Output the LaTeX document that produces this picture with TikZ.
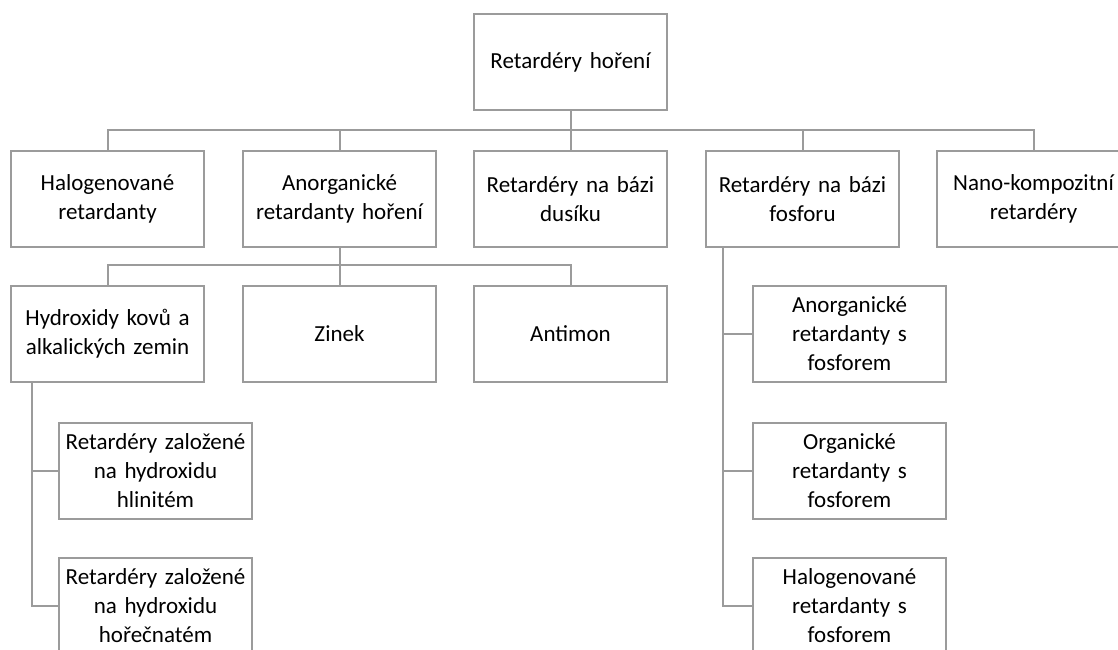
\documentclass[tikz,border=0pt]{standalone}
\usepackage{fontspec}
\setmainfont{Carlito}
\definecolor{linegray}{RGB}{155,155,155}
\begin{document}
\begin{tikzpicture}[x=1pt,y=-1pt,
  box/.style={draw=linegray, line width=2pt, fill=white, minimum width=193pt, minimum height=96pt,
    align=center, text width=188pt, inner sep=0pt, anchor=north west,
    font=\fontsize{23}{29}\selectfont},
  conn/.style={draw=linegray, line width=2pt}]
\useasboundingbox (0,0) rectangle (1118,649);
% level 0
\node[box] (root) at (473,13) {Retardéry hoření};
% level 1
\node[box] (hal) at (10,150) {Halogenované\\retardanty};
\node[box] (anorg) at (242,150) {Anorganické\\retardanty hoření};
\node[box] (dus) at (473,150) {Retardéry na bázi\\dusíku};
\node[box] (fos) at (705,150) {Retardéry na bázi\\fosforu};
\node[box] (nano) at (936,150) {Nano-kompozitní\\retardéry};
% level 2
\node[box] (hyd) at (10,285) {Hydroxidy kovů a\\alkalických zemin};
\node[box] (zin) at (242,285) {Zinek};
\node[box] (ant) at (473,285) {Antimon};
\node[box] (fa) at (752,285) {Anorganické\\retardanty s\\fosforem};
\node[box] (fo) at (752,422) {Organické\\retardanty s\\fosforem};
\node[box] (fh) at (752,557) {Halogenované\\retardanty s\\fosforem};
% level 3
\node[box] (al) at (58,422) {Retardéry založené\\na hydroxidu\\hlinitém};
\node[box] (mg) at (58,557) {Retardéry založené\\na hydroxidu\\hořečnatém};
% helper coordinates
\coordinate (busA) at (0,130);
\coordinate (busB) at (0,265);
\coordinate (hx) at (32,0);
\coordinate (fx) at (723,0);
% connectors
\draw[conn] (hal.north) -- (hal.north |- busA) -| (nano.north);
\draw[conn] (root.south) -- (root.south |- busA);
\draw[conn] (anorg.north) -- (anorg.north |- busA);
\draw[conn] (dus.north) -- (dus.north |- busA);
\draw[conn] (fos.north) -- (fos.north |- busA);
\draw[conn] (hyd.north) -- (hyd.north |- busB) -| (ant.north);
\draw[conn] (anorg.south) -- (anorg.south |- busB);
\draw[conn] (zin.north) -- (zin.north |- busB);
\draw[conn] (hx |- hyd.south) |- (mg.west);
\draw[conn] (hx |- al.west) -- (al.west);
\draw[conn] (fx |- fos.south) |- (fh.west);
\draw[conn] (fx |- fa.west) -- (fa.west);
\draw[conn] (fx |- fo.west) -- (fo.west);
\end{tikzpicture}
\end{document}
